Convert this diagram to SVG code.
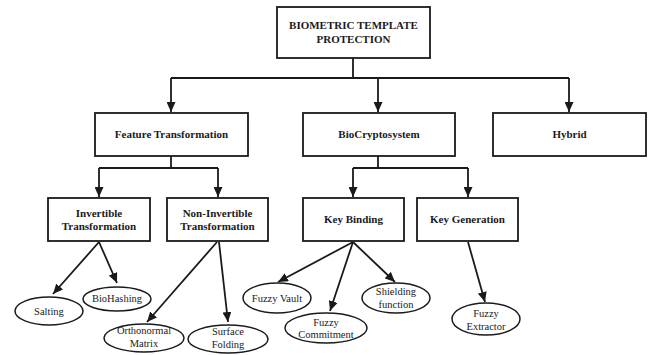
<svg xmlns="http://www.w3.org/2000/svg" width="655" height="355" viewBox="0 0 655 355">
  <style>
    .box { fill: #ffffff; stroke: #1a1a1a; stroke-width: 1.8; }
    .oval { fill: #ffffff; stroke: #1a1a1a; stroke-width: 1.5; }
    .edge { fill: none; stroke: #1a1a1a; stroke-width: 1.8; }
    .bt { font-family: "Liberation Serif", "Times New Roman", serif; font-weight: bold; font-size: 11px; fill: #1a1a1a; text-anchor: middle; }
    .et { font-family: "Liberation Serif", "Times New Roman", serif; font-size: 10.5px; fill: #1a1a1a; text-anchor: middle; }
  </style>
  <defs>
    <marker id="arrow" markerUnits="userSpaceOnUse" markerWidth="11" markerHeight="9" refX="10" refY="4.5" orient="auto">
      <path d="M0,0 L10,4.5 L0,9 Z" fill="#1a1a1a"/>
    </marker>
  </defs>
  <rect width="655" height="355" fill="#ffffff"/>

  <!-- connectors -->
  <g id="connectors">
    <polyline class="edge" points="353,58 353,78"/>
    <polyline class="edge" points="171,78 569,78"/>
    <polyline class="edge" points="171,78 171,112" marker-end="url(#arrow)"/>
    <polyline class="edge" points="378,78 378,112" marker-end="url(#arrow)"/>
    <polyline class="edge" points="569,78 569,112" marker-end="url(#arrow)"/>

    <polyline class="edge" points="171,156 171,168"/>
    <polyline class="edge" points="99,168 218,168"/>
    <polyline class="edge" points="99,168 99,197" marker-end="url(#arrow)"/>
    <polyline class="edge" points="218,168 218,197" marker-end="url(#arrow)"/>

    <polyline class="edge" points="378,156 378,168"/>
    <polyline class="edge" points="353,168 468,168"/>
    <polyline class="edge" points="353,168 353,197" marker-end="url(#arrow)"/>
    <polyline class="edge" points="468,168 468,197" marker-end="url(#arrow)"/>

    <line class="edge" x1="99" y1="242" x2="53" y2="294" marker-end="url(#arrow)"/>
    <line class="edge" x1="99" y1="242" x2="117" y2="283" marker-end="url(#arrow)"/>
    <line class="edge" x1="217" y1="242" x2="147" y2="322" marker-end="url(#arrow)"/>
    <line class="edge" x1="219" y1="242" x2="228" y2="322" marker-end="url(#arrow)"/>
    <line class="edge" x1="353" y1="242" x2="278" y2="282" marker-end="url(#arrow)"/>
    <line class="edge" x1="353" y1="242" x2="330" y2="311" marker-end="url(#arrow)"/>
    <line class="edge" x1="353" y1="242" x2="395" y2="282" marker-end="url(#arrow)"/>
    <line class="edge" x1="468" y1="242" x2="485" y2="302" marker-end="url(#arrow)"/>
  </g>

  <!-- root -->
  <g id="root">
    <rect class="box" x="277" y="7" width="153" height="51"/>
    <text class="bt" x="353.5" y="29">BIOMETRIC TEMPLATE</text>
    <text class="bt" x="353.5" y="43">PROTECTION</text>
  </g>

  <!-- second level -->
  <g id="feature-transformation">
    <rect class="box" x="95" y="113" width="153" height="43"/>
    <text class="bt" x="171.5" y="138">Feature Transformation</text>
  </g>
  <g id="biocryptosystem">
    <rect class="box" x="303" y="113" width="152" height="43"/>
    <text class="bt" x="379" y="138">BioCryptosystem</text>
  </g>
  <g id="hybrid">
    <rect class="box" x="493" y="113" width="153" height="43"/>
    <text class="bt" x="569.5" y="138">Hybrid</text>
  </g>

  <!-- third level -->
  <g id="invertible">
    <rect class="box" x="48" y="198" width="102" height="43"/>
    <text class="bt" x="99" y="217">Invertible</text>
    <text class="bt" x="99" y="230">Transformation</text>
  </g>
  <g id="non-invertible">
    <rect class="box" x="167" y="198" width="101" height="43"/>
    <text class="bt" x="217.5" y="217">Non-Invertible</text>
    <text class="bt" x="217.5" y="230">Transformation</text>
  </g>
  <g id="key-binding">
    <rect class="box" x="303" y="198" width="101" height="43"/>
    <text class="bt" x="353.5" y="223">Key Binding</text>
  </g>
  <g id="key-generation">
    <rect class="box" x="417" y="198" width="101" height="43"/>
    <text class="bt" x="467.5" y="223">Key Generation</text>
  </g>

  <!-- leaves -->
  <g id="salting">
    <ellipse class="oval" cx="49" cy="311" rx="34" ry="14"/>
    <text class="et" x="49" y="315">Salting</text>
  </g>
  <g id="biohashing">
    <ellipse class="oval" cx="117" cy="299" rx="34" ry="12"/>
    <text class="et" x="117" y="302">BioHashing</text>
  </g>
  <g id="orthonormal-matrix">
    <ellipse class="oval" cx="144" cy="338" rx="40" ry="14"/>
    <text class="et" x="144" y="334">Orthonormal</text>
    <text class="et" x="144" y="347">Matrix</text>
  </g>
  <g id="surface-folding">
    <ellipse class="oval" cx="228" cy="339" rx="40" ry="14"/>
    <text class="et" x="228" y="335">Surface</text>
    <text class="et" x="228" y="348">Folding</text>
  </g>
  <g id="fuzzy-vault">
    <ellipse class="oval" cx="277" cy="298" rx="34" ry="15"/>
    <text class="et" x="277" y="302">Fuzzy Vault</text>
  </g>
  <g id="fuzzy-commitment">
    <ellipse class="oval" cx="326" cy="328" rx="41" ry="15"/>
    <text class="et" x="326" y="326">Fuzzy</text>
    <text class="et" x="326" y="338">Commitment</text>
  </g>
  <g id="shielding-function">
    <ellipse class="oval" cx="396" cy="298" rx="34" ry="15"/>
    <text class="et" x="396" y="295">Shielding</text>
    <text class="et" x="396" y="308">function</text>
  </g>
  <g id="fuzzy-extractor">
    <ellipse class="oval" cx="486" cy="319" rx="34" ry="16"/>
    <text class="et" x="486" y="317">Fuzzy</text>
    <text class="et" x="486" y="330">Extractor</text>
  </g>
</svg>
